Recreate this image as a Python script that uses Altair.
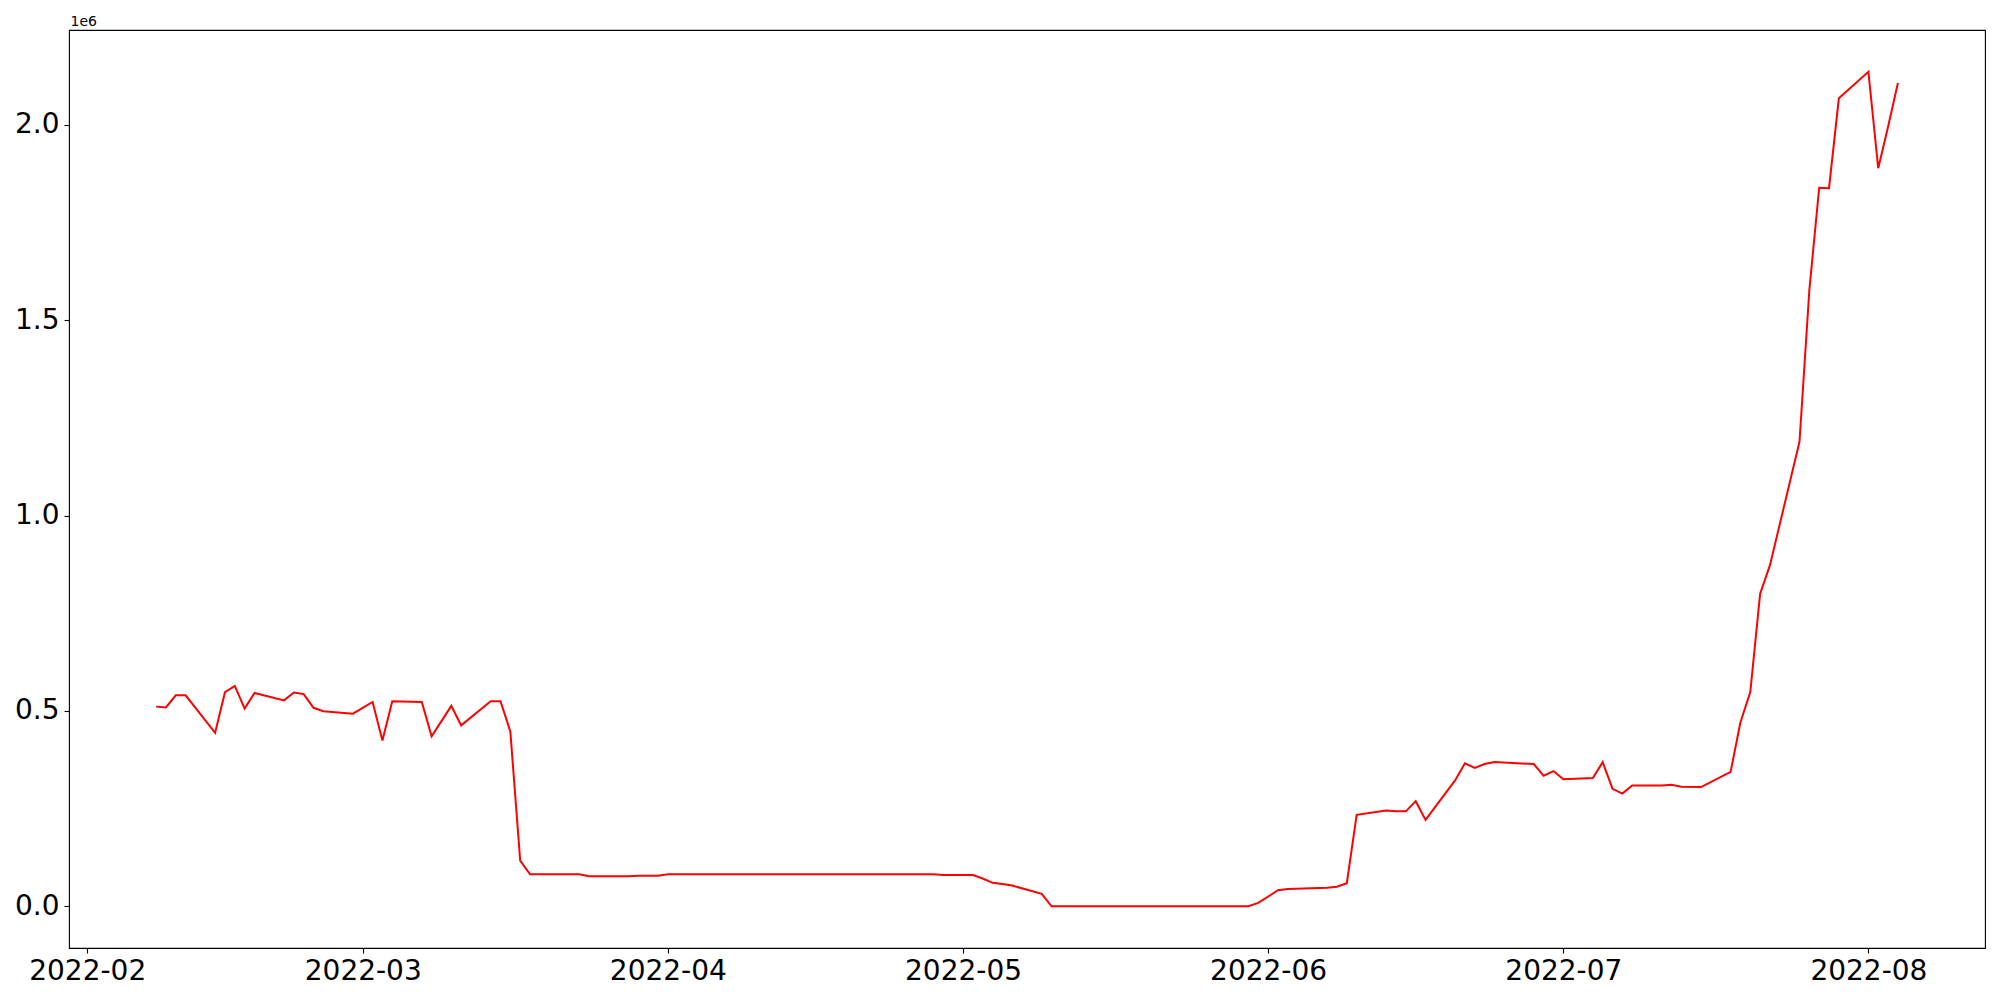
import altair as alt
import pandas as pd

# ---- data (values in millions) ----
dates = [
    "2022-02-08", "2022-02-09", "2022-02-10", "2022-02-11", "2022-02-14",
    "2022-02-15", "2022-02-16", "2022-02-17", "2022-02-18", "2022-02-21",
    "2022-02-22", "2022-02-23", "2022-02-24", "2022-02-25", "2022-02-28",
    "2022-03-02", "2022-03-03", "2022-03-04", "2022-03-07", "2022-03-08",
    "2022-03-10", "2022-03-11", "2022-03-14", "2022-03-15", "2022-03-16",
    "2022-03-17", "2022-03-18", "2022-03-21", "2022-03-22", "2022-03-23",
    "2022-03-24", "2022-03-25", "2022-03-28", "2022-03-29", "2022-03-30",
    "2022-03-31", "2022-04-01", "2022-04-04", "2022-04-05", "2022-04-06",
    "2022-04-07", "2022-04-08", "2022-04-11", "2022-04-12", "2022-04-13",
    "2022-04-14", "2022-04-15", "2022-04-18", "2022-04-19", "2022-04-20",
    "2022-04-21", "2022-04-22", "2022-04-25", "2022-04-26", "2022-04-27",
    "2022-04-28", "2022-04-29", "2022-05-02", "2022-05-03", "2022-05-04",
    "2022-05-05", "2022-05-06", "2022-05-09", "2022-05-10", "2022-05-11",
    "2022-05-12", "2022-05-13", "2022-05-16", "2022-05-17", "2022-05-18",
    "2022-05-19", "2022-05-20", "2022-05-23", "2022-05-24", "2022-05-25",
    "2022-05-26", "2022-05-27", "2022-05-30", "2022-05-31", "2022-06-02",
    "2022-06-03", "2022-06-07", "2022-06-08", "2022-06-09", "2022-06-10",
    "2022-06-13", "2022-06-14", "2022-06-15", "2022-06-16", "2022-06-17",
    "2022-06-20", "2022-06-21", "2022-06-22", "2022-06-23", "2022-06-24",
    "2022-06-28", "2022-06-29", "2022-06-30", "2022-07-01", "2022-07-04",
    "2022-07-05", "2022-07-06", "2022-07-07", "2022-07-08", "2022-07-11",
    "2022-07-12", "2022-07-13", "2022-07-15", "2022-07-18", "2022-07-19",
    "2022-07-20", "2022-07-21", "2022-07-22", "2022-07-25", "2022-07-26",
    "2022-07-27", "2022-07-28", "2022-07-29", "2022-08-01", "2022-08-02",
    "2022-08-03", "2022-08-04",
]
values_millions = [
    0.511, 0.509, 0.540, 0.540, 0.444,
    0.548, 0.564, 0.506, 0.546, 0.527,
    0.547, 0.543, 0.508, 0.499, 0.493,
    0.523, 0.424, 0.525, 0.523, 0.435,
    0.513, 0.463, 0.525, 0.525, 0.447,
    0.117, 0.082, 0.082, 0.082, 0.082,
    0.077, 0.077, 0.077, 0.078, 0.078,
    0.078, 0.082, 0.082, 0.082, 0.082,
    0.082, 0.082, 0.082, 0.082, 0.082,
    0.082, 0.082, 0.082, 0.082, 0.082,
    0.082, 0.082, 0.082, 0.082, 0.082,
    0.082, 0.080, 0.080, 0.071, 0.060,
    0.057, 0.053, 0.032, 0.000, 0.000,
    0.000, 0.000, 0.000, 0.000, 0.000,
    0.000, 0.000, 0.000, 0.000, 0.000,
    0.000, 0.000, 0.000, 0.0085, 0.041,
    0.044, 0.0475, 0.050, 0.059, 0.234,
    0.245, 0.243, 0.243, 0.269, 0.221,
    0.322, 0.366, 0.354, 0.364, 0.369,
    0.364, 0.334, 0.346, 0.325, 0.328,
    0.369, 0.3005, 0.2885, 0.309, 0.309,
    0.311, 0.306, 0.305, 0.344, 0.471,
    0.548, 0.800, 0.873, 1.189, 1.577,
    1.839, 1.838, 2.068, 2.136, 1.889,
    1.995, 2.107,
]
x_tick_months = [2, 3, 4, 5, 6, 7, 8]
y_tick_values = [0.0, 0.5e6, 1.0e6, 1.5e6, 2.0e6]

df = pd.DataFrame({
    "date": pd.to_datetime(dates),
    "value": [v * 1e6 for v in values_millions],
})

# matplotlib-style 5% margins around the data
t_ms = (df["date"] - pd.Timestamp("1970-01-01")) // pd.Timedelta(milliseconds=1)
t_lo, t_hi = int(t_ms.min()), int(t_ms.max())
t_pad = 0.05 * (t_hi - t_lo)
v_lo, v_hi = df["value"].min(), df["value"].max()
v_pad = 0.05 * (v_hi - v_lo)

FONT = "DejaVu Sans"

chart = alt.Chart(df).mark_line(color="#ff0000", strokeWidth=2).encode(
    x=alt.X(
        "date:T",
        scale=alt.Scale(type="utc", domain=[t_lo - t_pad, t_hi + t_pad], nice=False),
        axis=alt.Axis(
            title=None,
            values=[alt.DateTime(year=2022, month=m, date=1, utc=True) for m in x_tick_months],
            labelExpr="utcFormat(datum.value, '%Y-%m')",
            labelFontSize=28,
            labelFont=FONT,
            labelColor="black",
            labelPadding=4,
            labelFlush=False,
            labelOverlap=False,
            tickColor="black",
            tickSize=5,
            tickWidth=1.1,
            domain=False,
            grid=False,
        ),
    ),
    y=alt.Y(
        "value:Q",
        scale=alt.Scale(domain=[v_lo - v_pad, v_hi + v_pad], nice=False, zero=False),
        axis=alt.Axis(
            title="1e6",
            titleAngle=0,
            titleAlign="left",
            titleBaseline="alphabetic",
            titleX=1,
            titleY=-5,
            titleFontSize=14,
            titleFontWeight="normal",
            titleFont=FONT,
            titleColor="black",
            values=y_tick_values,
            labelExpr="format(datum.value / 1000000, '.1f')",
            labelFontSize=28,
            labelFont=FONT,
            labelColor="black",
            labelPadding=5,
            labelFlush=False,
            labelOverlap=False,
            tickColor="black",
            tickSize=5,
            tickWidth=1.1,
            domain=False,
            grid=False,
        ),
    ),
).properties(
    width=1916,
    height=918,
    padding={"left": 61, "top": 22, "right": 7, "bottom": 44},
    autosize=alt.AutoSizeParams(type="none"),
    background="white",
).configure_view(
    stroke="black",
    strokeWidth=1.1,
)

chart.save("out.html", embed_options={"renderer": "svg", "actions": False})
